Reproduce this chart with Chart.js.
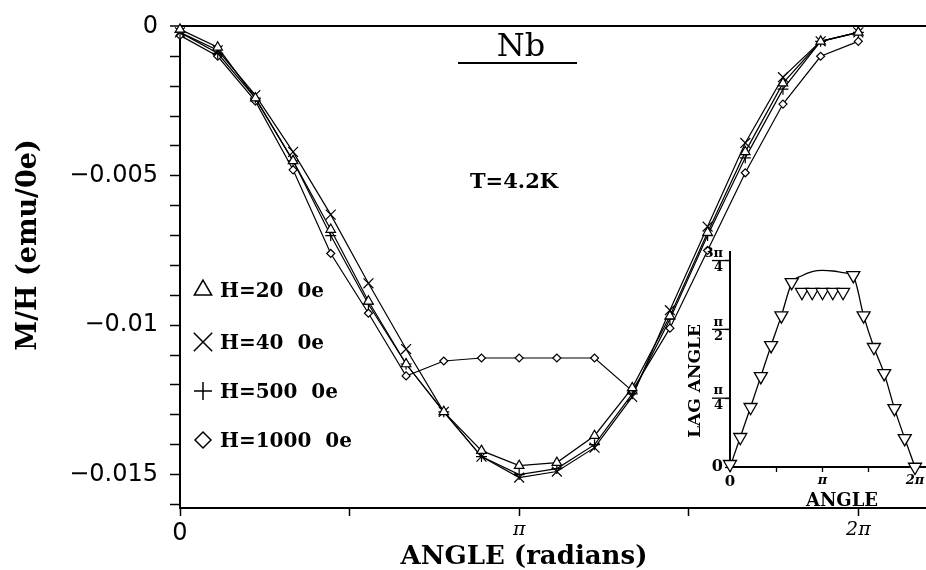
<!DOCTYPE html>
<html>
<head>
<meta charset="utf-8">
<script src="https://cdn.jsdelivr.net/npm/chart.js@4.4.1/dist/chart.umd.min.js"></script>
<style>
  html, body { margin: 0; padding: 0; background: #fff; }
  #wrap { position: relative; width: 926px; height: 570px; }
  #main { position: absolute; left: 0; top: 0; }
  #inset { position: absolute; left: 660px; top: 236px; }
</style>
</head>
<body>
<div id="wrap">
  <canvas id="main" width="926" height="570"></canvas>
  <canvas id="inset" width="266" height="284"></canvas>
</div>
<script>
const PI = Math.PI;

// angle of the field (degrees), same for every series
const anglesDeg = [0, 20, 40, 60, 80, 100, 120, 140, 160, 180, 200, 220, 240, 260, 280, 300, 320, 340, 360];

// M/H (emu/Oe)
const h20   = [-0.0001, -0.0007, -0.0024, -0.0045, -0.0068, -0.0092, -0.0113, -0.0129, -0.0142, -0.0147, -0.0146, -0.0137, -0.0121, -0.0097, -0.0069, -0.0042, -0.0019, -0.0005, -0.0002];
const h40   = [-0.0002, -0.0008, -0.0023, -0.0042, -0.0063, -0.0086, -0.0108, -0.0129, -0.0144, -0.0151, -0.0149, -0.0141, -0.0124, -0.0095, -0.0067, -0.0039, -0.0017, -0.0005, -0.0002];
const h500  = [-0.0002, -0.0009, -0.0024, -0.0045, -0.0070, -0.0093, -0.0113, -0.0129, -0.0144, -0.0150, -0.0148, -0.0140, -0.0123, -0.0098, -0.0070, -0.0044, -0.0021, -0.0005, -0.0002];
const h1000 = [-0.0003, -0.0010, -0.0025, -0.0048, -0.0076, -0.0096, -0.0117, -0.0112, -0.0111, -0.0111, -0.0111, -0.0111, -0.0122, -0.0101, -0.0075, -0.0049, -0.0026, -0.0010, -0.0005];

// inset: lag angle in units of pi (triangles) and the drawn guide curve
const lagAngle = [0.01, 0.108, 0.217, 0.329, 0.442, 0.550, 0.671, 0.635, 0.635, 0.635, 0.635, 0.635, 0.696, 0.550, 0.435, 0.340, 0.213, 0.104, 0.0];
const lagCurve = [0.0, 0.108, 0.217, 0.329, 0.442, 0.550, 0.667, 0.695, 0.710, 0.714, 0.712, 0.706, 0.692, 0.550, 0.435, 0.340, 0.213, 0.104, 0.0];

// ticks
const mainXTicks  = [0, PI / 2, PI, 3 * PI / 2, 2 * PI];
const mainXLabels = ['0', '', 'π', '', '2π'];
const mainYTicks  = [-0.016, -0.015, -0.014, -0.013, -0.012, -0.011, -0.010, -0.009, -0.008, -0.007, -0.006, -0.005, -0.004, -0.003, -0.002, -0.001, 0];
const mainYLabels = ['', '−0.015', '', '', '', '', '−0.01', '', '', '', '', '−0.005', '', '', '', '', '0'];
const insetXTicks  = [0, PI / 2, PI, 3 * PI / 2, 2 * PI];
const insetXLabels = ['0', '', 'π', '', '2π'];
const insetYTicks  = [0, PI / 4, PI / 2, 3 * PI / 4];
const insetYLabels = ['0', ['π', '4'], ['π', '2'], ['3π', '4']];

const seriesNames = ['H=20  0e', 'H=40  0e', 'H=500  0e', 'H=1000  0e'];

const toPoints = (vals) => anglesDeg.map((d, i) => ({ x: d * PI / 180, y: vals[i] }));

// ============================================
// MAIN CHART
// ============================================
const series = (label, vals, style, radius) => ({
    label: label,
    data: toPoints(vals),
    borderColor: '#000',
    borderWidth: 1.2,
    tension: 0,
    pointStyle: style,
    pointRadius: radius,
    pointBorderColor: '#000',
    pointBackgroundColor: '#fff',
    pointBorderWidth: 1.2,
    clip: false
});

function marker(ctx, style, x, y, r) {
    if (Chart.helpers && Chart.helpers.drawPoint) {
        Chart.helpers.drawPoint(ctx, { pointStyle: style, radius: r, rotation: 0, borderWidth: 1.5 }, x, y);
        return;
    }
    ctx.beginPath();
    ctx.arc(x, y, r, 0, 2 * PI);
    ctx.stroke();
}

const mainText = {
    id: 'mainText',
    afterDraw(chart) {
        const ctx = chart.ctx;
        ctx.save();
        ctx.fillStyle = '#000';
        ctx.strokeStyle = '#000';
        ctx.textAlign = 'center';
        ctx.textBaseline = 'alphabetic';

        ctx.font = '32px "DejaVu Serif"';
        ctx.fillText('Nb', 521, 56);
        ctx.lineWidth = 2;
        ctx.beginPath();
        ctx.moveTo(458, 63);
        ctx.lineTo(577, 63);
        ctx.stroke();

        ctx.font = 'bold 21px "DejaVu Serif"';
        ctx.fillText('T=4.2K', 514, 188);

        ctx.font = 'bold 26px "DejaVu Serif"';
        ctx.fillText('ANGLE (radians)', 524, 564);

        ctx.save();
        ctx.translate(36, 245);
        ctx.rotate(-PI / 2);
        ctx.font = 'bold 27px "DejaVu Serif"';
        ctx.fillText('M/H (emu/0e)', 0, 0);
        ctx.restore();

        // legend inside the plot
        const styles = ['triangle', 'crossRot', 'cross', 'rectRot'];
        const sizes = [10, 13, 9, 8];
        const rows = [290, 342, 391, 440];
        ctx.textAlign = 'left';
        ctx.font = 'bold 20px "DejaVu Serif"';
        ctx.lineWidth = 1.5;
        seriesNames.forEach((name, i) => {
            ctx.fillStyle = '#fff';
            marker(ctx, styles[i], 203, rows[i], sizes[i]);
            ctx.fillStyle = '#000';
            ctx.fillText(name, 220, rows[i] + 7);
        });
        ctx.restore();
    }
};

new Chart(document.getElementById('main'), {
    type: 'line',
    data: {
        datasets: [
            series(seriesNames[0], h20, 'triangle', 5.5),
            series(seriesNames[1], h40, 'crossRot', 7),
            series(seriesNames[2], h500, 'cross', 5.5),
            series(seriesNames[3], h1000, 'rectRot', 4)
        ]
    },
    options: {
        responsive: false,
        animation: false,
        layout: { autoPadding: false, padding: { top: 24, left: 0, right: 0, bottom: 0 } },
        plugins: { legend: { display: false }, tooltip: { enabled: false } },
        scales: {
            x: {
                type: 'linear',
                min: 0,
                max: 6.91,
                afterBuildTicks: (s) => { s.ticks = mainXTicks.map(v => ({ value: v })); },
                afterFit: (s) => { s.height = 62; },
                border: { display: true, color: '#000', width: 2 },
                grid: { drawOnChartArea: false, tickLength: 8, tickColor: '#000', tickWidth: 1.5 },
                ticks: {
                    autoSkip: false,
                    maxRotation: 0,
                    padding: 3,
                    color: '#000',
                    callback: (v, i) => mainXLabels[i],
                    font: (c) => c.tick && c.tick.value === 0
                        ? { family: 'DejaVu Sans', size: 24 }
                        : { family: 'DejaVu Serif', size: 19, style: 'italic' }
                }
            },
            y: {
                type: 'linear',
                min: -0.01612,
                max: 0,
                afterBuildTicks: (s) => { s.ticks = mainYTicks.map(v => ({ value: v })); },
                afterFit: (s) => { s.width = 180; },
                border: { display: true, color: '#000', width: 2 },
                grid: {
                    drawOnChartArea: true,
                    color: (c) => c.tick && c.tick.value === 0 ? '#000' : 'rgba(0,0,0,0)',
                    lineWidth: (c) => c.tick && c.tick.value === 0 ? 2 : 1,
                    tickLength: 10,
                    tickColor: '#000',
                    tickWidth: 1.5
                },
                ticks: {
                    autoSkip: false,
                    padding: 12,
                    color: '#000',
                    font: { family: 'DejaVu Sans', size: 24 },
                    callback: (v, i) => mainYLabels[i]
                }
            }
        }
    },
    plugins: [mainText]
});

// ============================================
// INSET
// ============================================
const insetText = {
    id: 'insetText',
    afterDraw(chart) {
        const ctx = chart.ctx;
        const y = chart.scales.y;
        const left = chart.chartArea.left;
        ctx.save();
        ctx.strokeStyle = '#000';
        ctx.lineWidth = 1.3;
        insetYTicks.forEach((v) => {
            if (v === 0) return;
            const py = y.getPixelForValue(v);
            ctx.beginPath();
            ctx.moveTo(left - 18, py);
            ctx.lineTo(left, py);
            ctx.stroke();
        });
        ctx.fillStyle = '#000';
        ctx.textAlign = 'center';
        ctx.font = 'bold 18px "DejaVu Serif"';
        ctx.fillText('ANGLE', 182, 270);
        ctx.translate(40, 145);
        ctx.rotate(-PI / 2);
        ctx.font = 'bold 17px "DejaVu Serif"';
        ctx.fillText('LAG ANGLE', 0, 0);
        ctx.restore();
    }
};

const lagPts = anglesDeg.map((d, i) => ({ x: d * PI / 180, y: lagAngle[i] * PI }));
const curvePts = anglesDeg.map((d, i) => ({ x: d * PI / 180, y: lagCurve[i] * PI }));

new Chart(document.getElementById('inset'), {
    type: 'line',
    data: {
        datasets: [
            {
                label: 'lag angle',
                data: lagPts,
                showLine: false,
                pointStyle: 'triangle',
                pointRotation: 180,
                pointRadius: 7.5,
                pointBorderColor: '#000',
                pointBackgroundColor: '#fff',
                pointBorderWidth: 1.3,
                clip: false
            },
            {
                label: 'curve',
                data: curvePts,
                borderColor: '#000',
                borderWidth: 1.3,
                pointRadius: 0,
                cubicInterpolationMode: 'monotone',
                clip: false
            }
        ]
    },
    options: {
        responsive: false,
        animation: false,
        layout: { autoPadding: false, padding: { top: 16, left: 0, right: 0, bottom: 0 } },
        plugins: { legend: { display: false }, tooltip: { enabled: false } },
        scales: {
            x: {
                type: 'linear',
                min: 0,
                max: 2.119 * PI,
                afterBuildTicks: (s) => { s.ticks = insetXTicks.map(v => ({ value: v })); },
                afterFit: (s) => { s.height = 53; },
                border: { display: true, color: '#000', width: 2 },
                grid: { drawOnChartArea: false, tickLength: 5, tickColor: '#000', tickWidth: 1.3 },
                ticks: {
                    autoSkip: false,
                    maxRotation: 0,
                    padding: 1,
                    color: '#000',
                    callback: (v, i) => insetXLabels[i],
                    font: (c) => c.tick && c.tick.value === 0
                        ? { family: 'DejaVu Serif', size: 15, weight: 'bold' }
                        : { family: 'DejaVu Serif', size: 13, style: 'italic', weight: 'bold' }
                }
            },
            y: {
                type: 'linear',
                min: 0,
                max: 0.78 * PI,
                afterBuildTicks: (s) => { s.ticks = insetYTicks.map(v => ({ value: v })); },
                afterFit: (s) => { s.width = 70; },
                border: { display: true, color: '#000', width: 2 },
                grid: { drawOnChartArea: false, tickLength: 5, tickColor: '#000', tickWidth: 1.3 },
                ticks: {
                    autoSkip: false,
                    padding: 2,
                    color: '#000',
                    callback: (v, i) => insetYLabels[i],
                    font: (c) => c.tick && c.tick.value === 0
                        ? { family: 'DejaVu Serif', size: 16, weight: 'bold', lineHeight: 1.1 }
                        : { family: 'DejaVu Serif', size: 13, weight: 'bold', lineHeight: 1.1 }
                }
            }
        }
    },
    plugins: [insetText]
});
</script>
</body>
</html>
